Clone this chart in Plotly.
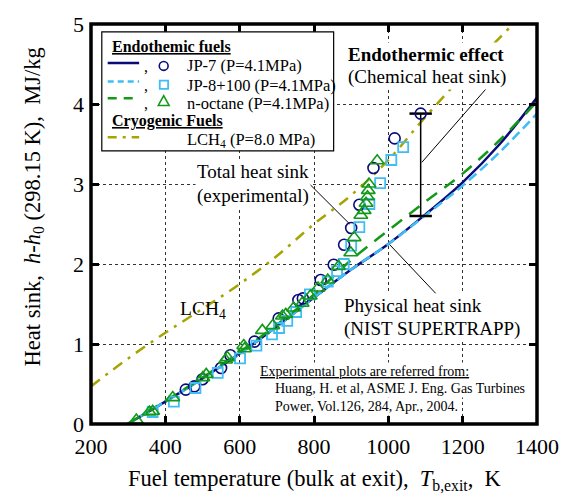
import plotly.graph_objects as go

# ---------------- data ----------------
# Physical heat sink, NIST SUPERTRAPP curves  (T in K, h-h0 in MJ/kg)
T_curve = [298, 400, 500, 600, 700, 800, 900, 1000, 1100, 1200, 1300, 1400]
jp7_curve = [0.0, 0.28, 0.57, 0.88, 1.22, 1.58, 1.93, 2.25, 2.62, 3.02, 3.50, 4.08]
jp8_curve = [0.0, 0.28, 0.57, 0.88, 1.22, 1.58, 1.93, 2.25, 2.61, 2.98, 3.40, 3.88]
oct_curve = [0.0, 0.29, 0.58, 0.90, 1.24, 1.62, 2.05, 2.42, 2.78, 3.13, 3.55, 4.03]

# Cryogenic fuel LCH4 (P = 8.0 MPa)
T_lch4 = [200, 300, 400, 500, 600, 700, 800, 900, 1000, 1100, 1200, 1300, 1350]
lch4_curve = [0.47, 0.82, 1.14, 1.44, 1.75, 2.10, 2.50, 2.86, 3.30, 3.84, 4.35, 4.83, 5.07]

# Experimental total heat sink (Huang et al. 2004)
jp7_T = [455, 478, 500, 550, 575, 640, 705, 758, 770, 818, 853, 881, 900, 922, 960, 1017, 1087]
jp7_v = [0.43, 0.47, 0.56, 0.70, 0.86, 1.03, 1.32, 1.55, 1.57, 1.80, 1.99, 2.24, 2.45, 2.74, 3.20, 3.57, 3.88]

jp8_T = [366, 423, 481, 541, 601, 645, 687, 706, 728, 752, 789, 837, 862, 880, 900, 922, 949, 978, 1008, 1040]
jp8_v = [0.15, 0.28, 0.45, 0.64, 0.82, 0.98, 1.12, 1.20, 1.29, 1.40, 1.62, 1.78, 1.91, 2.00, 2.23, 2.46, 2.75, 3.01, 3.30, 3.46]

oct_T = [322, 357, 366, 420, 501, 510, 562, 567, 611, 613, 661, 689, 715, 724, 745, 768, 790, 811, 837, 866,
         899, 908, 926, 935, 940, 944, 946, 948, 970]
oct_v = [0.05, 0.15, 0.16, 0.33, 0.58, 0.62, 0.80, 0.83, 0.98, 0.94, 1.17, 1.23, 1.35, 1.37, 1.45, 1.51, 1.60, 1.70, 1.80, 1.97,
         2.14, 2.33, 2.61, 2.67, 2.76, 2.84, 2.92, 3.00, 3.29]

# Endothermic effect (chemical heat sink) bar
err_T = [1087, 1087]
err_v = [2.60, 3.88]

x_ticks = [200, 400, 600, 800, 1000, 1200, 1400]
y_ticks = [0, 1, 2, 3, 4, 5]

# ---------------- styling ----------------
FONT = "Liberation Serif"
NAVY = "#0b0b7a"
SKY = "#3fbdf4"
GREEN = "#13991a"
OLIVE = "#a6a400"

W, H = 571, 497
L, R, TOP, BOT = 91, 545, 14, 424


def px(x):
    return (x - L) / (R - L)


def py(y):
    return (BOT - y) / (BOT - TOP)


fig = go.Figure()

fig.add_trace(go.Scatter(x=T_lch4, y=lch4_curve, mode="lines",
                         line=dict(color=OLIVE, width=2.5, dash="11px,7px,3px,7px", shape="spline")))
fig.add_trace(go.Scatter(x=T_curve, y=jp7_curve, mode="lines",
                         line=dict(color=NAVY, width=2.5, shape="spline")))
fig.add_trace(go.Scatter(x=T_curve, y=jp8_curve, mode="lines",
                         line=dict(color=SKY, width=2.5, dash="10px,5px", shape="spline")))
fig.add_trace(go.Scatter(x=T_curve, y=oct_curve, mode="lines",
                         line=dict(color=GREEN, width=2.5, dash="13px,9px", shape="spline")))

fig.add_trace(go.Scatter(x=err_T, y=err_v, mode="lines+markers",
                         line=dict(color="black", width=1.5),
                         marker=dict(symbol="line-ew-open", size=16, line=dict(color="black", width=2.5))))

fig.add_trace(go.Scatter(x=jp7_T, y=jp7_v, mode="markers",
                         marker=dict(symbol="circle-open", size=11, color=NAVY, line=dict(width=1.6))))
fig.add_trace(go.Scatter(x=jp8_T, y=jp8_v, mode="markers",
                         marker=dict(symbol="square-open", size=10, color=SKY, line=dict(width=1.8))))
fig.add_trace(go.Scatter(x=oct_T, y=oct_v, mode="markers",
                         marker=dict(symbol="triangle-up-open", size=12, color=GREEN, line=dict(width=1.6))))

shapes = []
# leader lines (data coords)
shapes.append(dict(type="line", xref="x", yref="y", x0=1263, y0=4.19, x1=1090, y1=3.27,
                   line=dict(color="black", width=1)))
shapes.append(dict(type="line", xref="x", yref="y", x0=788, y0=3.00, x1=896, y1=2.50,
                   line=dict(color="black", width=1)))
shapes.append(dict(type="line", xref="x", yref="y", x0=1128, y0=1.63, x1=1004, y1=2.24,
                   line=dict(color="black", width=1)))

# legend box
shapes.append(dict(type="rect", xref="paper", yref="paper", x0=px(102), x1=px(338), y0=py(22), y1=py(144),
                   fillcolor="white", line=dict(color="black", width=1.2), layer="above"))
# legend line samples
for yy, col, dash in [(54, NAVY, "solid"), (73, SKY, "6px,4px"), (90, GREEN, "9px,7px"), (130, OLIVE, "9px,6px,3px,6px")]:
    shapes.append(dict(type="line", xref="paper", yref="paper", x0=px(108), x1=px(140), y0=py(yy), y1=py(yy),
                       line=dict(color=col, width=2.5, dash=dash), layer="above"))
# legend markers
shapes.append(dict(type="circle", xref="paper", yref="paper", x0=px(160.5), x1=px(169.5), y0=py(61.5), y1=py(52.5),
                   line=dict(color=NAVY, width=1.6), layer="above"))
shapes.append(dict(type="rect", xref="paper", yref="paper", x0=px(161), x1=px(169.5), y0=py(80.5), y1=py(72),
                   line=dict(color=SKY, width=1.8), layer="above"))
tri = "M {0},{1} L {2},{3} L {4},{5} Z".format(px(165), py(87.5), px(170.5), py(97.5), px(159.5), py(97.5))
shapes.append(dict(type="path", xref="paper", yref="paper", path=tri,
                   line=dict(color=GREEN, width=1.6), layer="above"))
# plot frame
shapes.append(dict(type="rect", xref="paper", yref="paper", x0=0, x1=1, y0=0, y1=1,
                   line=dict(color="black", width=3.5), layer="above"))


def ann(x, y, text, size=16, xanchor="center", bg=None, angle=0):
    d = dict(xref="paper", yref="paper", x=px(x), y=py(y), text=text, showarrow=False,
             xanchor=xanchor, yanchor="middle", textangle=angle,
             font=dict(family=FONT, size=size, color="black"))
    if bg:
        d["bgcolor"] = bg
        d["borderpad"] = 1
    return d


annotations = [
    # legend texts
    ann(110, 37, "<b><u>Endothemic fuels</u></b>", 16, "left"),
    ann(143, 58, ",", 16, "left"),
    ann(143, 77, ",", 16, "left"),
    ann(143, 95, ",", 16, "left"),
    ann(187, 57, "JP-7 (P=4.1MPa)", 16.5, "left"),
    ann(187, 77, "JP-8+100 (P=4.1MPa)", 16.5, "left"),
    ann(187, 95, "n-octane (P=4.1MPa)", 16.5, "left"),
    ann(110, 113, "<b><u>Cryogenic Fuels</u></b>", 16, "left"),
    ann(187, 133, "LCH<sub>4</sub> (P=8.0 MPa)", 16.5, "left"),
    # plot texts
    ann(351, 45, "<b>Endothermic effect</b>", 19, "left", "white"),
    ann(351, 68, "(Chemical heat sink)", 19, "left", "white"),
    ann(256, 165, "Total heat sink", 19, "center", "white"),
    ann(256, 190, "(experimental)", 19, "center", "white"),
    ann(205, 307, "LCH<sub>4</sub>", 19.5, "center"),
    ann(347, 303, "Physical heat sink", 19, "left", "white"),
    ann(347, 327, "(NIST SUPERTRAPP)", 19, "left", "white"),
    ann(261, 370, "<u>Experimental plots are referred from:</u>", 14, "left", "white"),
    ann(276, 388, "Huang, H. et al, ASME J. Eng. Gas Turbines", 14, "left", "white"),
    ann(276, 406, "Power, Vol.126, 284, Apr., 2004.", 14, "left", "white"),
    # axis titles
    ann(319, 481, "Fuel temperature (bulk at exit),\u00a0\u00a0<i>T</i><sub>b,exit</sub>,\u00a0\u00a0K", 22.5, "center"),
    ann(33, 202, "Heat sink,\u00a0\u00a0<i>h</i>-<i>h</i><sub>0</sub> (298.15 K),\u00a0\u00a0MJ/kg", 22.5, "center", None, -90),
]

axis_common = dict(showline=False, zeroline=False, ticks="inside", ticklen=8, tickwidth=3, tickcolor="black",
                   mirror="ticks", showgrid=True, gridcolor="#333333", gridwidth=1, griddash="dot",
                   tickfont=dict(family=FONT, size=22, color="black"))

fig.update_layout(
    width=W, height=H,
    margin=dict(l=L, r=W - R, t=TOP, b=H - BOT),
    paper_bgcolor="white", plot_bgcolor="white",
    showlegend=False,
    xaxis=dict(range=[200, 1400], tickvals=x_ticks, ticktext=[str(v) for v in x_ticks],
               ticklabelstandoff=7, **axis_common),
    yaxis=dict(range=[0, 5], tickvals=y_ticks, ticktext=[str(v) for v in y_ticks],
               ticklabelstandoff=6, **axis_common),
    shapes=shapes,
    annotations=annotations,
    font=dict(family=FONT, color="black"),
)

fig.write_html("out.html")
